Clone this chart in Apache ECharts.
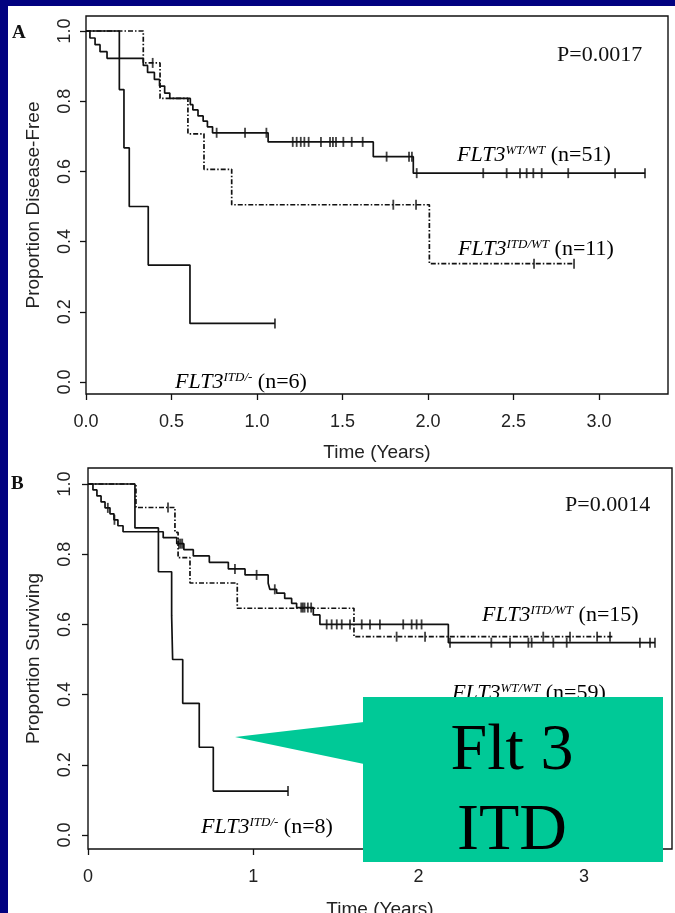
<!DOCTYPE html>
<html><head><meta charset="utf-8">
<script src="https://cdn.jsdelivr.net/npm/echarts@6/dist/echarts.min.js"></script>
<style>
html,body{margin:0;padding:0;background:#020280;width:675px;height:913px;overflow:hidden}
#bg{position:absolute;left:8px;top:6px;width:667px;height:907px;background:#fff}
#c{position:absolute;left:0;top:0;width:675px;height:913px}
</style></head><body><div id="bg"></div><div id="c"></div>
<script>
// ---------- Panel A: disease-free survival ----------
const xTicksA = [0, 0.5, 1, 1.5, 2, 2.5, 3];
const yTicks = [0, 0.2, 0.4, 0.6, 0.8, 1];
// FLT3 WT/WT (n=51)
const aWtTime = [0, 0.023, 0.053, 0.082, 0.123, 0.335, 0.36, 0.40, 0.43, 0.46, 0.49, 0.61, 0.625, 0.655, 0.685, 0.71, 0.74, 1.065, 1.68, 1.914, 3.27];
const aWtSurv = [1, 0.98, 0.961, 0.941, 0.922, 0.902, 0.882, 0.862, 0.843, 0.823, 0.808, 0.79, 0.775, 0.758, 0.743, 0.727, 0.71, 0.684, 0.642, 0.595, 0.595];
const aWtCens = [0.764, 0.93, 1.055, 1.209, 1.232, 1.256, 1.277, 1.302, 1.374, 1.427, 1.444, 1.462, 1.505, 1.554, 1.618, 1.758, 1.889, 1.906, 1.934, 2.323, 2.46, 2.538, 2.577, 2.616, 2.665, 2.82, 3.094, 3.269];
// FLT3 ITD/WT (n=11)
const aItdWtTime = [0, 0.335, 0.433, 0.596, 0.69, 0.852, 2.008, 2.854];
const aItdWtSurv = [1, 0.909, 0.808, 0.707, 0.606, 0.505, 0.337, 0.337];
const aItdWtCens = [0.39, 1.797, 1.93, 2.62, 2.854];
// FLT3 ITD/- (n=6)
const aItdTime = [0, 0.195, 0.222, 0.253, 0.364, 0.608, 1.105];
const aItdSurv = [1, 0.833, 0.667, 0.5, 0.333, 0.167, 0.167];
const aItdCens = [1.105];

// ---------- Panel B: overall survival ----------
const xTicksB = [0, 1, 2, 3];
// FLT3 WT/WT (n=59)
const bWtTime = [0, 0.03, 0.054, 0.079, 0.103, 0.133, 0.157, 0.181, 0.212, 0.455, 0.537, 0.58, 0.637, 0.734, 0.849, 0.95, 1.09, 1.1, 1.141, 1.19, 1.232, 1.262, 1.363, 1.403, 2.18, 3.43];
const bWtSurv = [1, 0.983, 0.966, 0.949, 0.932, 0.915, 0.898, 0.881, 0.864, 0.847, 0.83, 0.813, 0.795, 0.777, 0.758, 0.741, 0.717, 0.70, 0.689, 0.674, 0.66, 0.648, 0.627, 0.60, 0.548, 0.548];
const bWtCens = [0.12, 0.16, 0.55, 0.56, 0.57, 0.889, 1.02, 1.13, 1.29, 1.30, 1.31, 1.33, 1.35, 1.444, 1.474, 1.505, 1.535, 1.585, 1.656, 1.706, 1.766, 1.907, 1.958, 1.988, 2.018, 2.19, 2.44, 2.553, 2.664, 2.684, 2.815, 2.896, 3.339, 3.40, 3.43];
// FLT3 ITD/WT (n=15)
const bItdWtTime = [0, 0.29, 0.526, 0.545, 0.617, 0.903, 1.609, 3.18];
const bItdWtSurv = [1, 0.933, 0.862, 0.79, 0.718, 0.646, 0.565, 0.565];
const bItdWtCens = [0.484, 1.867, 2.039, 2.754, 2.916, 3.08, 3.158];
// FLT3 ITD/- (n=8)
const bItdTime = [0, 0.284, 0.426, 0.506, 0.512, 0.573, 0.673, 0.758, 1.21];
const bItdSurv = [1, 0.875, 0.75, 0.625, 0.5, 0.375, 0.25, 0.125, 0.125];
const bItdCens = [1.21];

// ---------- helpers ----------
function survAt(times, surv, t) {
  let v = surv[0];
  for (let i = 0; i < times.length; i++) { if (times[i] <= t) v = surv[i]; }
  return v;
}
const INK = '#111';
const DASH = [5, 2, 1.5, 2];
function km(times, surv, gi, dashed) {
  return {
    type: 'line', step: 'end', xAxisIndex: gi, yAxisIndex: gi,
    data: times.map((t, i) => [t, surv[i]]),
    symbol: 'none', silent: true, animation: false, z: 3,
    lineStyle: { color: INK, width: 1.7, type: dashed ? DASH : 'solid' }
  };
}
function cens(cs, times, surv, gi) {
  return {
    type: 'scatter', xAxisIndex: gi, yAxisIndex: gi,
    data: cs.map(t => [t, survAt(times, surv, t)]),
    symbol: 'rect', symbolSize: [1.8, 10], silent: true, animation: false, z: 4,
    itemStyle: { color: INK }
  };
}
const SANS = 'Liberation Sans, Arial, sans-serif';
const SERIF = 'Liberation Serif, Times New Roman, serif';
function xAxis(gi, max, ticks, fmt, gap) {
  return {
    type: 'value', gridIndex: gi, min: 0, max: max,
    axisLine: { show: false, onZero: false },
    axisTick: { show: true, length: 6, customValues: ticks, lineStyle: { color: INK, width: 1.3 } },
    axisLabel: { customValues: ticks, formatter: fmt, fontSize: 18, color: '#222', fontFamily: SANS, margin: 19 },
    splitLine: { show: false },
    name: 'Time (Years)', nameLocation: 'middle', nameGap: gap,
    nameTextStyle: { fontSize: 19, color: '#222', fontFamily: SANS }
  };
}
function yAxis(gi, min, max, name, gap, margin) {
  return {
    type: 'value', gridIndex: gi, min: min, max: max,
    axisLine: { show: false, onZero: false },
    axisTick: { show: true, length: 6, customValues: yTicks, lineStyle: { color: INK, width: 1.3 } },
    axisLabel: { customValues: yTicks, formatter: v => v.toFixed(1), rotate: 90, fontSize: 18, color: '#222', fontFamily: SANS, margin: margin },
    splitLine: { show: false },
    name: name, nameLocation: 'middle', nameGap: gap,
    nameTextStyle: { fontSize: 19, color: '#222', fontFamily: SANS }
  };
}
const richStyle = {
  i: { fontFamily: SERIF, fontStyle: 'italic', fontSize: 22, color: INK },
  s: { fontFamily: SERIF, fontStyle: 'italic', fontSize: 13, color: INK, verticalAlign: 'top', padding: [0, 0, 8, 0] },
  n: { fontFamily: SERIF, fontSize: 22, color: INK }
};
function grpLabel(x, y, sup, n) {
  return { type: 'text', x: x, y: y, z: 50,
    style: { text: '{i|FLT3}{s|' + sup + '}{n| (n=' + n + ')}', rich: richStyle, textVerticalAlign: 'middle', textAlign: 'left' } };
}
function plain(x, y, txt, size, weight, align) {
  return { type: 'text', x: x, y: y, z: 50,
    style: { text: txt, fontFamily: SERIF, fontSize: size, fontWeight: weight || 'normal', fill: INK, textAlign: align || 'left', textVerticalAlign: 'middle' } };
}

const option = {
  backgroundColor: 'transparent',
  animation: false,
  grid: [
    { left: 86, top: 16, width: 582, height: 378, show: true, borderColor: INK, borderWidth: 1.4, backgroundColor: 'transparent', outerBoundsMode: 'none', containLabel: false },
    { left: 88, top: 468, width: 584, height: 381, show: true, borderColor: INK, borderWidth: 1.4, backgroundColor: 'transparent', outerBoundsMode: 'none', containLabel: false }
  ],
  xAxis: [
    xAxis(0, 3.4035, xTicksA, v => v.toFixed(1), 49),
    xAxis(1, 3.533, xTicksB, v => String(v), 51)
  ],
  yAxis: [
    yAxis(0, -0.0342, 1.0427, 'Proportion Disease-Free', 43, 12),
    yAxis(1, -0.0399, 1.0456, 'Proportion Surviving', 45, 14)
  ],
  series: [
    km(aWtTime, aWtSurv, 0, false), cens(aWtCens, aWtTime, aWtSurv, 0),
    km(aItdWtTime, aItdWtSurv, 0, true), cens(aItdWtCens, aItdWtTime, aItdWtSurv, 0),
    km(aItdTime, aItdSurv, 0, false), cens(aItdCens, aItdTime, aItdSurv, 0),
    km(bWtTime, bWtSurv, 1, false), cens(bWtCens, bWtTime, bWtSurv, 1),
    km(bItdWtTime, bItdWtSurv, 1, true), cens(bItdWtCens, bItdWtTime, bItdWtSurv, 1),
    km(bItdTime, bItdSurv, 1, false), cens(bItdCens, bItdTime, bItdSurv, 1)
  ],
  graphic: [
    plain(12, 33, 'A', 19, 'bold'),
    plain(11, 484, 'B', 19, 'bold'),
    plain(557, 55, 'P=0.0017', 22),
    plain(565, 505, 'P=0.0014', 22),
    grpLabel(457, 155, 'WT/WT', 51),
    grpLabel(458, 249, 'ITD/WT', 11),
    grpLabel(175, 382, 'ITD/-', 6),
    grpLabel(482, 615, 'ITD/WT', 15),
    grpLabel(452, 693, 'WT/WT', 59),
    grpLabel(201, 827, 'ITD/-', 8),
    { type: 'polygon', z: 100, shape: { points: [[235, 737], [364, 722], [364, 764]] }, style: { fill: '#00c997' } },
    { type: 'rect', z: 100, shape: { x: 363, y: 697, width: 300, height: 165 }, style: { fill: '#00c997' } },
    { type: 'text', z: 101, x: 512, y: 752, style: { text: 'Flt 3', fontFamily: SERIF, fontSize: 66, fill: '#000', textAlign: 'center', textVerticalAlign: 'middle' } },
    { type: 'text', z: 101, x: 512, y: 832, style: { text: 'ITD', fontFamily: SERIF, fontSize: 66, fill: '#000', textAlign: 'center', textVerticalAlign: 'middle' } }
  ]
};
const chart = echarts.init(document.getElementById('c'), null, { renderer: 'canvas' });
chart.setOption(option);
</script></body></html>
